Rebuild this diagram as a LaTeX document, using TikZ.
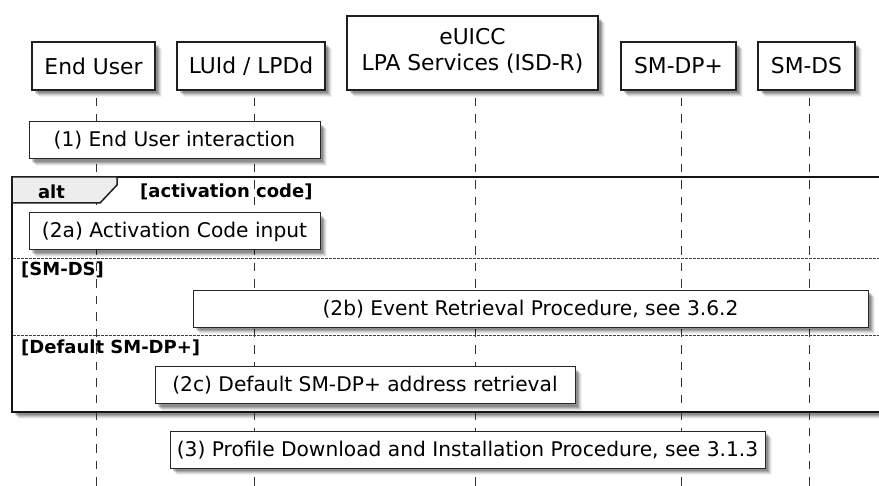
\documentclass[tikz,border=0pt]{standalone}
\usepackage{fontspec}
\setmainfont{DejaVu Sans}
\usetikzlibrary{shadows}
\begin{document}
\begin{tikzpicture}[x=1pt,y=-1pt,
  softshadow/.style={
    general shadow={shadow xshift=7pt,shadow yshift=-7pt,fill=black,opacity=0.05},
    general shadow={shadow xshift=6pt,shadow yshift=-6pt,fill=black,opacity=0.08},
    general shadow={shadow xshift=5pt,shadow yshift=-5pt,fill=black,opacity=0.11},
    general shadow={shadow xshift=4pt,shadow yshift=-4pt,fill=black,opacity=0.14},
    general shadow={shadow xshift=3pt,shadow yshift=-3pt,fill=black,opacity=0.17}},
  participant/.style={draw=black!88, line width=1.5pt, fill=white, softshadow,
    font=\fontsize{21.8}{24}\selectfont, inner sep=0pt, minimum height=48pt},
  notebox/.style={draw=black!85, line width=1pt, fill=white, softshadow,
    font=\fontsize{20.2}{24}\selectfont, inner sep=0pt, minimum height=37pt},
  lifeline/.style={draw=black!80, line width=1pt, dash pattern=on 8.5pt off 8pt},
  separator/.style={draw=black!75, line width=1pt, dash pattern=on 2.5pt off 1.5pt},
  guard/.style={font=\fontsize{18}{20}\selectfont\bfseries, inner sep=0pt, anchor=west},
  framebox/.style={draw=black!92, line width=2pt}
]
\useasboundingbox (0,0) rectangle (879,486);
\clip (0,0) rectangle (879,486);
\fill[white] (0,0) rectangle (879,486);

% participants
\node[participant, minimum width=123pt] (eu) at (93.5,66) {End User};
\node[participant, minimum width=148pt] (lui) at (251,66) {LUId / LPDd};
\node[participant, minimum width=251pt, minimum height=74pt] (euicc) at (472.5,53)
  {\raisebox{-5pt}{\begin{tabular}{@{}c@{}}eUICC\\[2pt]LPA Services (ISD-R)\end{tabular}}};
\node[participant, minimum width=115pt] (dp) at (678.5,66) {SM-DP+};
\node[participant, minimum width=97pt] (ds) at (806.5,66) {SM-DS};
\coordinate (bot) at (0,490);

% alt frame background
\path[fill=white, softshadow] (12,177) rectangle (900,412);

% lifelines
\foreach \p in {eu,lui,euicc,dp,ds}{
  \draw[lifeline] ([xshift=3.2pt]\p.south) ++(0,7) coordinate (\p top) -- (\p top |- bot);
}

% alt frame
\draw[framebox] (12,177) rectangle (900,412);
\draw[draw=black!88, line width=1.5pt, fill=black!7]
  (12,177) -- (117,177) -- (117,185) -- (100,203) -- (12,203) -- cycle;
\node[font=\fontsize{18}{20}\selectfont\bfseries, inner sep=0pt] (alt) at (51.5,192) {alt};
\node[guard] (g1) at (140,192) {[activation code]};
\coordinate (s1l) at (13,259);
\coordinate (s1r) at (900,259);
\draw[separator] (s1l) -- (s1r);
\node[guard] (g2) at (21,270) {[SM-DS]};
\coordinate (s2l) at (13,336);
\coordinate (s2r) at (900,336);
\draw[separator] (s2l) -- (s2r);
\node[guard] (g3) at (21,348) {[Default SM-DP+]};

% notes
\node[notebox, minimum width=291pt] (n1) at (174.5,140.5) {(1) End User interaction};
\node[notebox, minimum width=291pt] (n2a) at (174.5,231.5) {(2a) Activation Code input};
\node[notebox, minimum width=675pt] (n2b) at (530.5,309) {(2b) Event Retrieval Procedure, see 3.6.2};
\node[notebox, minimum width=420pt] (n2c) at (365,385.5) {(2c) Default SM-DP+ address retrieval};
\node[notebox, minimum width=595pt] (n3) at (467.5,450) {(3) Profile Download and Installation Procedure, see 3.1.3};
\end{tikzpicture}
\end{document}
